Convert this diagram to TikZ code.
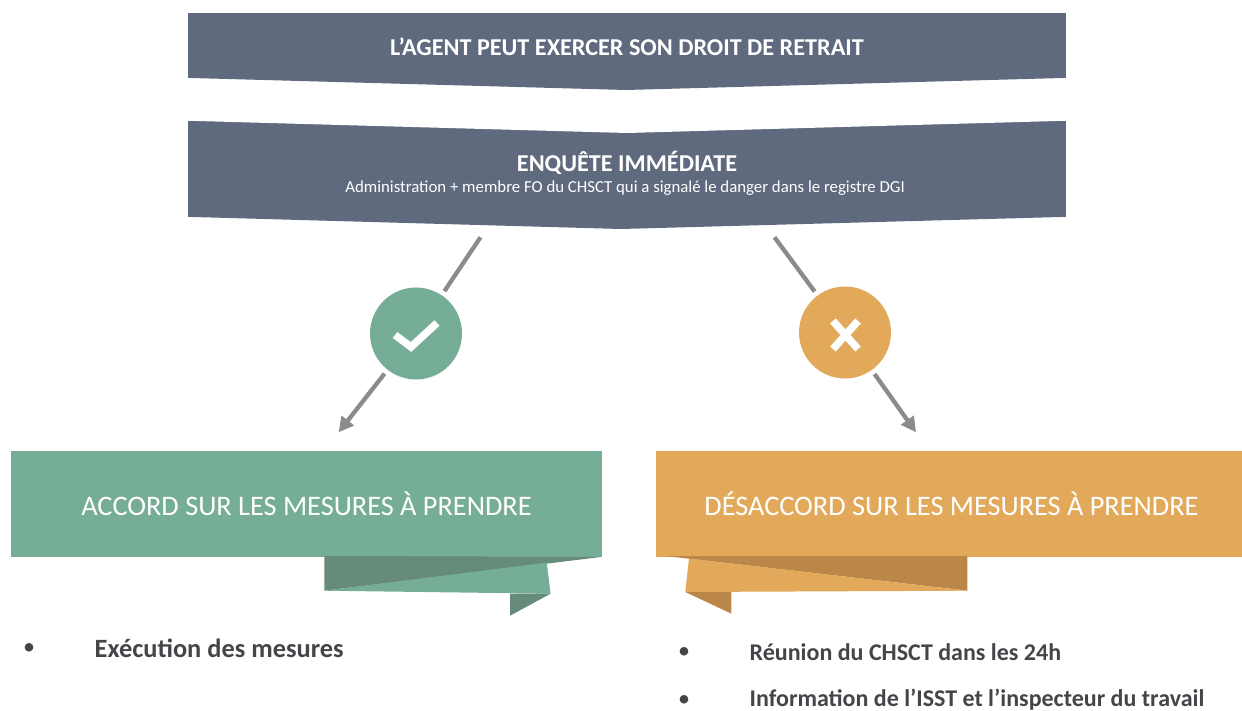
\documentclass[tikz,border=0pt]{standalone}
\usepackage{fontspec}
\setmainfont{Carlito}
\usepackage{tikz}
\usetikzlibrary{arrows.meta}
\usetikzlibrary{positioning}
\definecolor{slate}{HTML}{5F6A7E}
\definecolor{vert}{HTML}{76AD96}
\definecolor{vert_dark}{HTML}{668B78}
\definecolor{orange}{HTML}{E3A95B}
\definecolor{orange_dark}{HTML}{BA8748}
\definecolor{fleche}{HTML}{8B8B8D}
\definecolor{texte}{HTML}{444549}
\tikzset{
  base/.style={on grid, align=center, inner sep=0pt, text=white},
  banner/.style={base, fill=slate, minimum width=878pt},
  title/.style={base, font={\fontsize{24.2}{28}\selectfont\bfseries}},
  bloc/.style={base, minimum height=105.7pt, font={\fontsize{28.3}{33}\selectfont}},
  rond/.style={circle, minimum size=92pt, inner sep=0pt, outer sep=5pt},
  % white strokes inside the round marks
  mark_line/.style={draw=white, line width=7.5pt},
  % -------------------------------------------------
  link/.style={draw=fleche, line width=4.3pt},
  puce/.style={text=texte, inner sep=0pt, font={\fontsize{24}{28}\selectfont}},
  liste/.style={text=texte, inner sep=0pt, anchor=west, font={\fontsize{24}{28}\selectfont\bfseries}}
}

\begin{document}
\begin{tikzpicture}[%
    x=1pt, y=-1pt,
    >={Triangle[length=15pt,width=15pt]},
    ]
\useasboundingbox (0,0) rectangle (1242,711);

% -------------------------------------------------
% The two banners, with their points
\node [banner, minimum height=65pt] (agent) at (627,45.2) {};
\node [banner, minimum height=95.7pt, below=123.6pt of agent] (enquete) {};
\fill [slate] (agent.south west) -- (626,90) -- (agent.south east) -- cycle;
\fill [white] (enquete.north west) -- (627,133) -- (enquete.north east) -- cycle;
\fill [slate] (enquete.south west) -- (621,229) -- (enquete.south east) -- cycle;

\node [title] (agent_text) at (627,47) {L’AGENT PEUT EXERCER SON DROIT DE RETRAIT};
\node [title] (enquete_text) at (627,163) {ENQUÊTE IMMÉDIATE};
\node [base, below=25pt of enquete_text, font={\fontsize{16.8}{20}\selectfont}] (enquete_sub) {
    Administration + membre FO du CHSCT qui a signalé le danger dans le registre DGI
};

% -------------------------------------------------
% Round marks
\node [rond, fill=vert] (ok) at (416,333.5) {};
\node [rond, fill=orange] (non) at (845,332.5) {};
\draw [mark_line] (395,335) -- (411,347) -- (437,323);
\draw [mark_line] (833,321) -- (858,349);
\draw [mark_line] (858,321) -- (833,349);

% -------------------------------------------------
% Result blocks
\node [bloc, fill=vert, minimum width=591pt] (accord) at (306.5,503.8) {ACCORD SUR LES MESURES À PRENDRE};
\node [bloc, fill=orange, minimum width=586pt] (desaccord) at (949,503.8) {\hspace{5pt}DÉSACCORD SUR LES MESURES À PRENDRE};

% ribbon folds under the blocks
\fill [vert_dark] (324.4,556) -- (accord.south east) -- (324.4,590.7) -- cycle;
\fill [vert] (324.4,590.7) -- (546.7,562.6) -- (550.6,593.7) -- cycle;
\fill [vert_dark] (510,593.7) -- (550.6,593.7) -- (510,615.7) -- cycle;
\fill [orange_dark] (665.3,556) -- (967.4,556) -- (967.4,590.7) -- cycle;
\fill [orange] (689,558.5) -- (967.4,590.7) -- (685.3,592) -- cycle;
\fill [orange_dark] (685.3,592) -- (731.4,592) -- (731.4,613.7) -- cycle;

% -------------------------------------------------
% Connectors
\coordinate (enquete_l) at (480.5,237.3);
\coordinate (enquete_r) at (774.5,237.3);
\coordinate (accord_top) at (338.6,432.3);
\coordinate (desaccord_top) at (916,432.3);
\draw [link] (enquete_l) -- (ok);
\draw [link] (enquete_r) -- (non);
\draw [link, ->] (ok) -- (accord_top);
\draw [link, ->] (non) -- (desaccord_top);

% -------------------------------------------------
% Lists
\node [puce] (p1) at (29,649) {•};
\node [liste, font={\fontsize{26.4}{30}\selectfont\bfseries}] (execution) at (94.5,648) {Exécution des mesures};
\node [puce] (p2) at (684,653) {•};
\node [liste] (reunion) at (749.5,652.5) {Réunion du CHSCT dans les 24h};
\node [puce] (p3) at (684,701) {•};
\node [liste] (information) at (749.5,699.5) {Information de l’ISST et l’inspecteur du travail};
\end{tikzpicture}
\end{document}
